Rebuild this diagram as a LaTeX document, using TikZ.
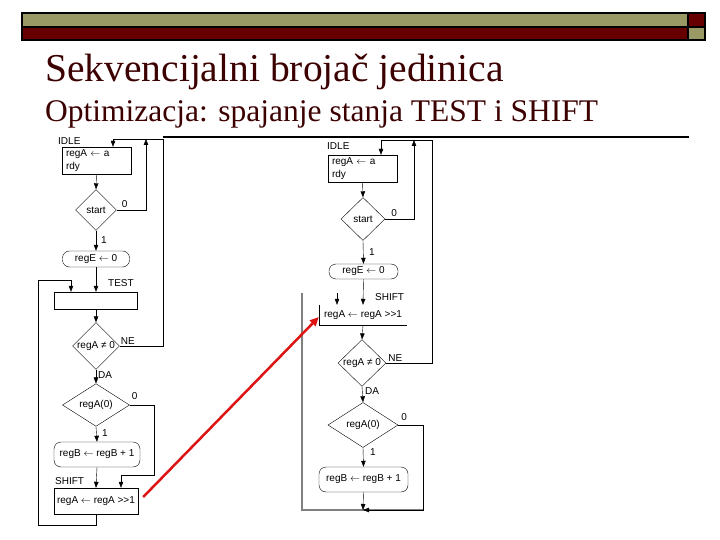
\documentclass[tikz,border=0pt]{standalone}
\usepackage{fontspec}
\setmainfont{Liberation Serif}
\newfontfamily\chartfont{Liberation Sans}
\usetikzlibrary{shapes.geometric,arrows.meta}
\definecolor{barolive}{RGB}{153,153,102}
\definecolor{barmaroon}{RGB}{102,0,0}
\definecolor{titlered}{RGB}{60,0,0}
\definecolor{markred}{RGB}{220,20,20}
\newcommand{\getsarrow}{\(\leftarrow\)}
\tikzset{
	chart/.style={font=\chartfont\fontsize{10}{12.5}\selectfont},
	arr/.style={-{Triangle[length=6pt,width=4.5pt]}},
	statebox/.style={draw, rectangle, inner sep=0pt, chart},
	ovalbox/.style={draw, rectangle, rounded corners=7pt, inner sep=0pt, chart},
	cond/.style={draw, diamond, inner sep=0pt, chart},
	lbl/.style={inner sep=0pt, chart}
}
\begin{document}
\begin{tikzpicture}[x=1pt,y=-1pt]
	  \useasboundingbox (0,0) rectangle (720,540);
	  % slide frame
	  \draw [fill=barolive, line width=1.2pt] (22,13) rectangle (688,27);
	  \draw [fill=barmaroon, line width=1.2pt] (22,27) rectangle (688,40);
	  \draw [fill=barmaroon, line width=1.2pt] (688,13) rectangle (705,27);
	  \draw [fill=barolive, line width=1.2pt] (688,27) rectangle (705,40);
	  \node [anchor=base west, inner sep=0pt, text=titlered, font=\fontsize{39.5}{44}\selectfont] (title) at (45,82) {Sekvencijalni brojač jedinica};
	  \node [anchor=base west, inner sep=0pt, text=titlered, font=\fontsize{31.5}{36}\selectfont] (subtitle) at (45,122) {Optimizacja: spajanje stanja TEST i SHIFT};
	  \draw [line width=1.5pt] (163,137)--(689,137);

	  % left chart
	  \node [statebox, minimum width=69pt, minimum height=27pt, text width=61pt, align=left] (idleL) at (96.5,160.5) {regA \getsarrow{} a\\rdy};
	  \node [lbl, anchor=west] (idleLlbl) at (58,141) {IDLE};
	  \node [cond, minimum width=41pt, minimum height=41pt] (startL) at (96,210) {start};
	  \node [ovalbox, minimum width=67pt, minimum height=16pt] (regEL) at (96,259) {regE \getsarrow{} 0};
	  \node [statebox, minimum width=83pt, minimum height=17pt] (testL) at (96,300.5) {};
	  \node [lbl, anchor=west] (testLlbl) at (108,283) {TEST};
	  \node [cond, minimum width=46pt, minimum height=42pt] (neqL) at (96,346) {regA ≠ 0};
	  \node [cond, minimum width=67pt, minimum height=40pt] (bitL) at (96,405) {regA(0)};
	  \node [ovalbox, minimum width=86pt, minimum height=25pt] (incL) at (97,454.5) {regB \getsarrow{} regB + 1};
	  \node [statebox, minimum width=84pt, minimum height=26pt] (shiftL) at (96,501) {regA \getsarrow{} regA >>1};
	  \node [lbl, anchor=west] (shiftLlbl) at (55,481) {SHIFT};

	  \node [lbl, anchor=south west] at ([xshift=5pt,yshift=2pt]startL.east) {0};
	  \node [lbl, anchor=west] at ([xshift=5pt]startL.south |- 0,240) {1};
	  \node [lbl, anchor=south west] at ([xshift=1pt,yshift=1pt]neqL.east) {NE};
	  \node [lbl, anchor=north west] at ([xshift=2pt,yshift=-2pt]neqL.south) {DA};
	  \node [lbl, anchor=south west] at ([xshift=2pt,yshift=5pt]bitL.east) {0};
	  \node [lbl, anchor=west] at ([xshift=6pt]bitL.south |- 0,433) {1};

	  \coordinate (lt0) at (113,139);
	  \coordinate (lt1) at (146,139);
	  \coordinate (lt2) at (163,139);
	  \coordinate (lzero) at (154,475);
	  \coordinate (lloopB) at (38,525);
	  \coordinate (lloopT) at (38,280);
	  \coordinate (ltestin) at (71,280);

	  \draw [arr] (idleL.south)--(startL.north);
	  \draw [arr] (startL.east) -| (lt1);
	  \draw [arr] (lt2)--(lt0)--(lt0 |- idleL.north);
	  \draw [arr] (startL.south)--(regEL.north);
	  \draw [arr] (regEL.south)--(testL.north);
	  \draw [arr] (testL.south)--(neqL.north);
	  \draw (neqL.east) -| (lt2);
	  \draw [arr] (neqL.south)--(bitL.north);
	  \draw [arr] (bitL.east) -| (lzero) -| ([xshift=25pt]shiftL.north);
	  \draw [arr] (bitL.south)--(incL.north);
	  \draw [arr] (incL.south)--(shiftL.north);
	  \draw [arr] (shiftL.south) |- (lloopB)--(lloopT)--(ltestin)--(ltestin |- testL.north);

	  % right chart
	  \node [statebox, minimum width=69pt, minimum height=27pt, text width=61pt, align=left] (idleR) at (362.5,168.5) {regA \getsarrow{} a\\rdy};
	  \node [lbl, anchor=west] (idleRlbl) at (327,146) {IDLE};
	  \node [cond, minimum width=44pt, minimum height=43pt] (startR) at (363,219) {start};
	  \node [ovalbox, minimum width=69pt, minimum height=15pt] (regER) at (363.5,271.5) {regE \getsarrow{} 0};
	  \node [lbl, minimum width=88pt, minimum height=20pt] (shiftR) at (363,315) {regA \getsarrow{} regA >>1};
	  \draw (shiftR.north west)--(shiftR.south west)--(shiftR.south east);
	  \node [lbl, anchor=west] (shiftRlbl) at (375,297) {SHIFT};
	  \node [cond, minimum width=48pt, minimum height=43pt] (neqR) at (362,363) {regA ≠ 0};
	  \node [cond, minimum width=70pt, minimum height=45pt] (bitR) at (363,425) {regA(0)};
	  \node [ovalbox, minimum width=89pt, minimum height=25pt] (incR) at (363.5,479.5) {regB \getsarrow{} regB + 1};

	  \node [lbl, anchor=south west] at ([xshift=6pt,yshift=2pt]startR.east) {0};
	  \node [lbl, anchor=west] at ([xshift=6pt]startR.south |- 0,252) {1};
	  \node [lbl, anchor=south west] at ([xshift=2pt,yshift=1pt]neqR.east) {NE};
	  \node [lbl, anchor=north west] at ([xshift=3pt,yshift=-1pt]neqR.south) {DA};
	  \node [lbl, anchor=south west] at ([xshift=3pt,yshift=4pt]bitR.east) {0};
	  \node [lbl, anchor=west] at ([xshift=7pt]bitR.south |- 0,452) {1};

	  \coordinate (rt0) at (381,140);
	  \coordinate (rt1) at (414,140);
	  \coordinate (rt2) at (432,140);
	  \coordinate (rzero) at (423,510);
	  \coordinate (rmerge) at (363,510);
	  \coordinate (rin) at (337,293);
	  \coordinate (rloopT) at (302,293);
	  \coordinate (rloopB) at (302,510);

	  \draw [gray, line width=1.2pt] (rloopT)--(rloopB)--(rzero);
	  \draw [arr] (idleR.south)--(startR.north);
	  \draw [arr] (startR.east) -| (rt1);
	  \draw [arr] (rt2)--(rt0)--(rt0 |- idleR.north);
	  \draw [arr] (startR.south)--(regER.north);
	  \draw [arr] (regER.south)--(shiftR.north);
	  \draw [arr] (rin)--(rin |- shiftR.north);
	  \draw [arr] (shiftR.south)--(neqR.north);
	  \draw (neqR.east) -| (rt2);
	  \draw [arr] (neqR.south)--(bitR.north);
	  \draw [arr] (bitR.east) -| (rzero)--(rmerge);
	  \draw [arr] (bitR.south)--(incR.north);
	  \draw [arr] (incR.south)--(rmerge);

	  % pointer
	  \draw [markred, line width=2.5pt, -{Triangle[length=9pt,width=8pt]}] ([xshift=5pt,yshift=4pt]shiftL.east)--([yshift=-2pt]shiftR.west);
	\end{tikzpicture}
\end{document}
